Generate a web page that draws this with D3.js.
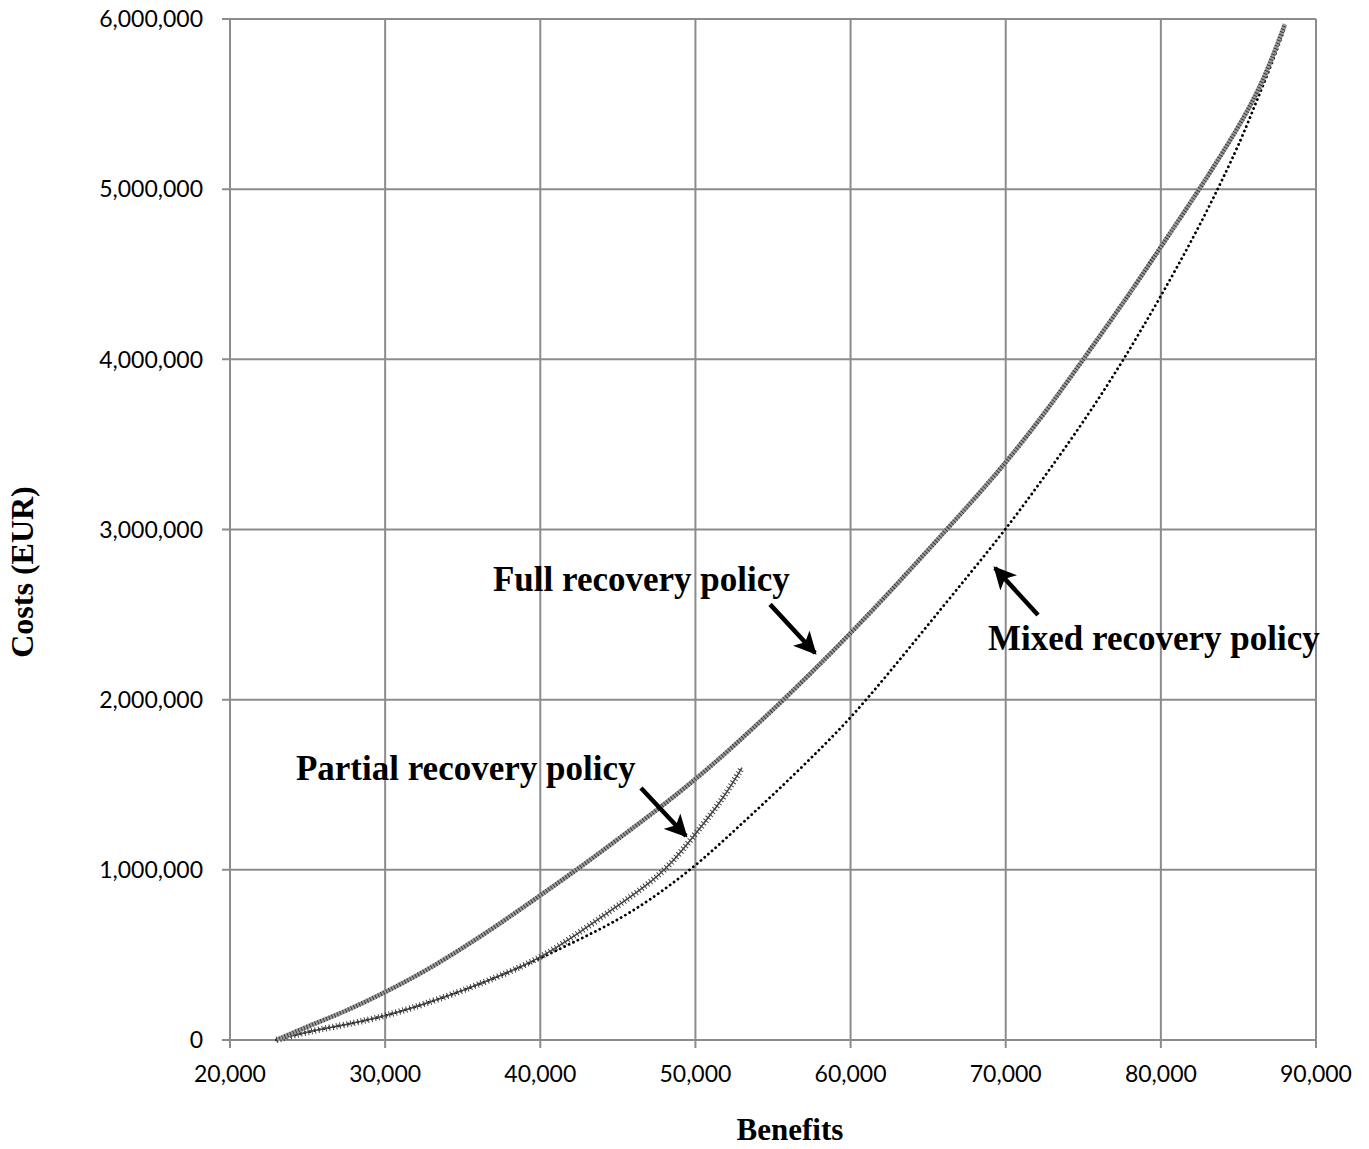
<!DOCTYPE html>
<html>
<head>
<meta charset="utf-8">
<script src="https://cdn.jsdelivr.net/npm/d3@7/dist/d3.min.js"></script>
<style>
  body { margin: 0; background: #fff; }
  svg { display: block; }
</style>
</head>
<body>
<svg id="chart"></svg>
<script>
// values (benefits, costs in EUR)
const fullBenefits = [23000, 25000, 27500, 30000, 32500, 35000, 37500, 40000, 42500, 45000, 47500, 50000, 52500, 55000, 57500, 60000, 62500, 65000, 67500, 70000, 72500, 75000, 77500, 80000, 82500, 85000, 86600, 88000];
const fullCosts = [0, 80000, 170000, 280000, 400000, 540000, 690000, 850000, 1010000, 1180000, 1350000, 1530000, 1730000, 1940000, 2160000, 2390000, 2630000, 2880000, 3130000, 3390000, 3680000, 4000000, 4320000, 4660000, 5000000, 5360000, 5630000, 5970000];

const partialBenefits = [23000, 25000, 27500, 30000, 32500, 35000, 37500, 40000, 42500, 44700, 46900, 48400, 50000, 51800, 53000];
const partialCosts = [0, 50000, 90000, 140000, 210000, 290000, 380000, 480000, 630000, 770000, 910000, 1030000, 1210000, 1420000, 1600000];

const mixedBenefits = [23000, 25000, 27500, 30000, 32500, 35000, 37500, 40000, 42500, 44700, 46900, 50000, 52500, 55000, 57500, 60000, 62500, 65000, 67500, 70000, 72500, 75000, 77500, 80000, 82500, 85000, 86000, 87000, 88000];
const mixedCosts = [0, 50000, 90000, 140000, 210000, 290000, 380000, 480000, 590000, 690000, 810000, 1020000, 1230000, 1440000, 1660000, 1890000, 2160000, 2440000, 2720000, 3000000, 3310000, 3630000, 3980000, 4370000, 4780000, 5250000, 5480000, 5700000, 5950000];

const xTicks = [20000, 30000, 40000, 50000, 60000, 70000, 80000, 90000];
const yTicks = [0, 1000000, 2000000, 3000000, 4000000, 5000000, 6000000];

// annotations: label, text anchor [benefits, costs], arrow from/to
const notes = [
  { label: "Full recovery policy", at: [36950, 2640000], from: [54810, 2560000], to: [57710, 2274000] },
  { label: "Partial recovery policy", at: [24250, 1530000], from: [46490, 1481000], to: [49390, 1199000] },
  { label: "Mixed recovery policy", at: [68860, 2292000], from: [72080, 2497000], to: [69310, 2774000] }
];

const width = 1369, height = 1149;
const margin = { top: 19, right: 53, bottom: 109, left: 230 };

const svg = d3.select("#chart").attr("width", width).attr("height", height);

const x = d3.scaleLinear().domain([20000, 90000]).range([margin.left, width - margin.right]);
const y = d3.scaleLinear().domain([0, 6000000]).range([height - margin.bottom, margin.top]);

const fmt = d3.format(",");
const gridColor = "#8c8c8c";
const serif = "'Liberation Serif', 'DejaVu Serif', serif";
const sans = "Lato, 'Open Sans', sans-serif";

// grid
svg.append("g")
  .selectAll("line")
  .data(xTicks)
  .join("line")
  .attr("x1", d => x(d)).attr("x2", d => x(d))
  .attr("y1", y(6000000)).attr("y2", y(0) + 8)
  .attr("stroke", gridColor).attr("stroke-width", 2);

svg.append("g")
  .selectAll("line")
  .data(yTicks)
  .join("line")
  .attr("x1", x(20000) - 8).attr("x2", x(90000))
  .attr("y1", d => y(d)).attr("y2", d => y(d))
  .attr("stroke", gridColor).attr("stroke-width", 2);

// tick labels
svg.append("g")
  .selectAll("text")
  .data(yTicks)
  .join("text")
  .attr("x", x(20000) - 27)
  .attr("y", d => y(d))
  .attr("dy", "0.36em")
  .attr("text-anchor", "end")
  .attr("fill", "#000")
  .style("font-family", sans)
  .style("font-size", "23px")
  .text(d => fmt(d));

svg.append("g")
  .selectAll("text")
  .data(xTicks)
  .join("text")
  .attr("x", d => x(d))
  .attr("y", y(0) + 42)
  .attr("text-anchor", "middle")
  .attr("fill", "#000")
  .style("font-family", sans)
  .style("font-size", "23px")
  .text(d => fmt(d));

// axis titles
svg.append("text")
  .attr("x", 790).attr("y", 1140)
  .attr("text-anchor", "middle")
  .style("font-family", serif)
  .style("font-weight", "bold")
  .style("font-size", "31px")
  .text("Benefits");

svg.append("text")
  .attr("transform", "translate(33,572) rotate(-90)")
  .attr("text-anchor", "middle")
  .style("font-family", serif)
  .style("font-weight", "bold")
  .style("font-size", "32px")
  .text("Costs (EUR)");

// series
const line = d3.line().x(d => x(d[0])).y(d => y(d[1])).curve(d3.curveBasis);
const zipPts = (a, b) => a.map((v, i) => [v, b[i]]);

const fullPts = zipPts(fullBenefits, fullCosts);
const partialPts = zipPts(partialBenefits, partialCosts);
const mixedPts = zipPts(mixedBenefits, mixedCosts);

// mixed: small dots
svg.append("path")
  .attr("d", line(mixedPts))
  .attr("fill", "none")
  .attr("stroke", "#000")
  .attr("stroke-width", 2.8)
  .attr("stroke-linecap", "round")
  .attr("stroke-dasharray", "0.1 4.8");

// partial: crosses
svg.append("path")
  .attr("d", line(partialPts))
  .attr("fill", "none")
  .attr("stroke", "#444")
  .attr("stroke-width", 1.5);
svg.append("path")
  .attr("d", line(partialPts))
  .attr("fill", "none")
  .attr("stroke", "#444")
  .attr("stroke-width", 6.5)
  .attr("stroke-dasharray", "1 2.6");

// full: dense triangles
svg.append("path")
  .attr("d", line(fullPts))
  .attr("fill", "none")
  .attr("stroke", "#999")
  .attr("stroke-width", 4.5);
svg.append("path")
  .attr("d", line(fullPts))
  .attr("fill", "none")
  .attr("stroke", "#2a2a2a")
  .attr("stroke-width", 4.5)
  .attr("stroke-dasharray", "0.8 2.2");

// annotations
svg.append("defs").append("marker")
  .attr("id", "head")
  .attr("viewBox", "0 0 10 10")
  .attr("refX", 9).attr("refY", 5)
  .attr("markerWidth", 5).attr("markerHeight", 5)
  .attr("orient", "auto")
  .append("path")
  .attr("d", "M0,0 L10,5 L0,10 L2.5,5 Z")
  .attr("fill", "#000");

svg.append("g")
  .selectAll("line")
  .data(notes)
  .join("line")
  .attr("x1", d => x(d.from[0])).attr("y1", d => y(d.from[1]))
  .attr("x2", d => x(d.to[0])).attr("y2", d => y(d.to[1]))
  .attr("stroke", "#000")
  .attr("stroke-width", 4.5)
  .attr("marker-end", "url(#head)");

svg.append("g")
  .selectAll("text")
  .data(notes)
  .join("text")
  .attr("x", d => x(d.at[0]))
  .attr("y", d => y(d.at[1]))
  .style("font-family", serif)
  .style("font-weight", "bold")
  .style("font-size", "35px")
  .text(d => d.label);
</script>
</body>
</html>
